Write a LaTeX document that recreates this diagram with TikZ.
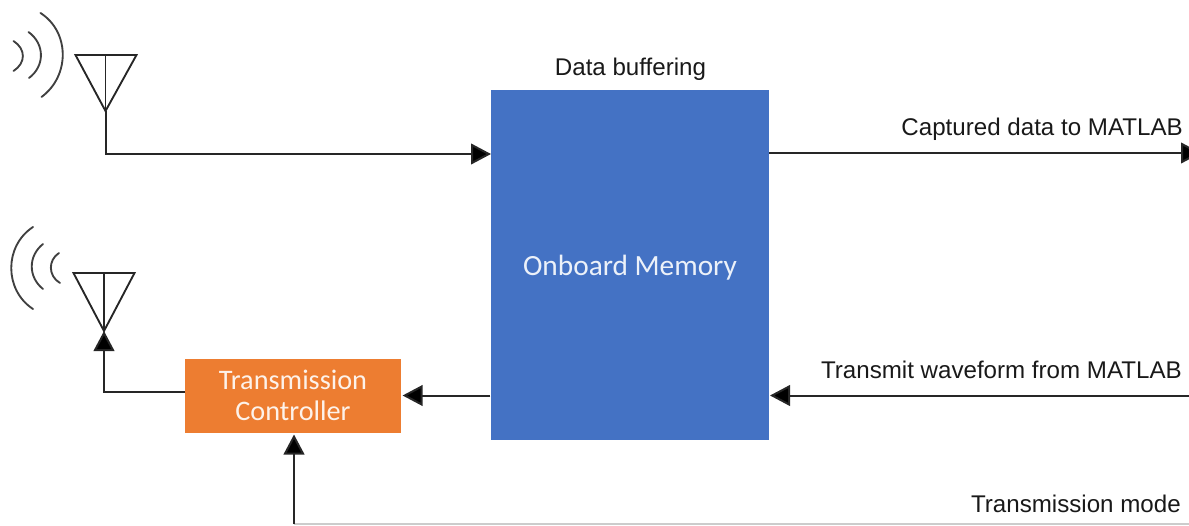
\documentclass[tikz,border=0pt]{standalone}
\usepackage{fontspec}
\setmainfont{Liberation Sans}
\newfontfamily\boxfont{Carlito}
\usetikzlibrary{arrows.meta}
\definecolor{memblue}{HTML}{4472C4}
\definecolor{ctlorange}{HTML}{ED7D31}
\tikzset{
  wire/.style={draw=black!85, line width=1.5pt},
  flow/.style={wire, -{Triangle[length=15pt, width=15.5pt, fill=black]}},
  ant/.style={draw=black!85, line width=1.4pt, line join=miter},
  wave/.style={draw=black!75, line width=1.4pt, line cap=round},
  lab/.style={font=\fontsize{18.1pt}{21pt}\selectfont, inner sep=0pt, text=black!90},
  mem/.style={fill=memblue, draw=none, inner sep=0pt, text=white!90!memblue, font=\boxfont\fontsize{22pt}{26pt}\selectfont},
  ctl/.style={fill=ctlorange, draw=none, inner sep=0pt, align=center, text=white!90!ctlorange, font=\boxfont\fontsize{21.2pt}{23.5pt}\selectfont}
}
\begin{document}
\begin{tikzpicture}[x=0.75pt,y=-0.75pt]
\useasboundingbox (0,0) rectangle (1189,525);
% boxes
\node[mem, minimum width=209pt, minimum height=262.5pt] (memory) at (630,265) {\raisebox{-7.5pt}[0pt][0pt]{Onboard Memory}};
\node[ctl, minimum width=162pt, minimum height=55.5pt] (control) at (293,395.5) {Transmission\\Controller};
% free ends and antenna feet
\coordinate (rxfoot) at (105.5,111);
\coordinate (txfoot) at (104,331);
\coordinate (memRin) at (491,154);
\coordinate (outStart) at (769,153);
\coordinate (outEnd) at (1201,153);
\coordinate (inStart) at (1189,395.5);
\coordinate (inEnd) at (770,395.5);
\coordinate (modeStart) at (1189,524);
\coordinate (modeCorner) at (294,524);
\coordinate (modeEnd) at (294,434.5);
\coordinate (ctlOut) at (185,392);
% antennas
\draw[ant] (75.5,55) -- (136.5,55) -- (rxfoot) -- cycle;
\draw[ant] (rxfoot) -- (105.5,55);
\draw[ant] (73.5,273) -- (134.5,273) -- (txfoot) -- cycle;
\draw[ant] (txfoot) -- (104,273);
% radio waves, receive
\draw[wave] (13.5,41) .. controls (26,49) and (26,63) .. (13.5,71);
\draw[wave] (28.5,32) .. controls (45,44) and (45,66) .. (29,78);
\draw[wave] (40.5,13) .. controls (70,32) and (70,76) .. (41.5,97);
% radio waves, transmit
\draw[wave] (59,253) .. controls (48,260) and (48,276) .. (60,283);
\draw[wave] (43,244) .. controls (28,256) and (28,277) .. (43,289);
\draw[wave] (33,227) .. controls (4,246) and (4,290) .. (33,309);
% connectors
\draw[flow] (rxfoot) |- (memRin);
\draw[flow] (outStart) -- (outEnd);
\draw[flow] (inStart) -- (inEnd);
\draw[flow] (memory.west |- control.east) -- ([xshift=1pt]control.east);
\draw[flow] (ctlOut) -| (txfoot);
\draw[draw=black!20, line width=1.2pt] (modeStart) -- (modeCorner);
\draw[flow] (modeCorner) -- (modeEnd);
% labels
\node[lab, anchor=base] (l1) at (630.5,75.5) {Data buffering};
\node[lab, anchor=base east] (l2) at (1183,135.5) {Captured data to MATLAB};
\node[lab, anchor=base east] (l3) at (1182,378) {Transmit waveform from MATLAB};
\node[lab, anchor=base east] (l4) at (1181,512) {Transmission mode};
\end{tikzpicture}
\end{document}
